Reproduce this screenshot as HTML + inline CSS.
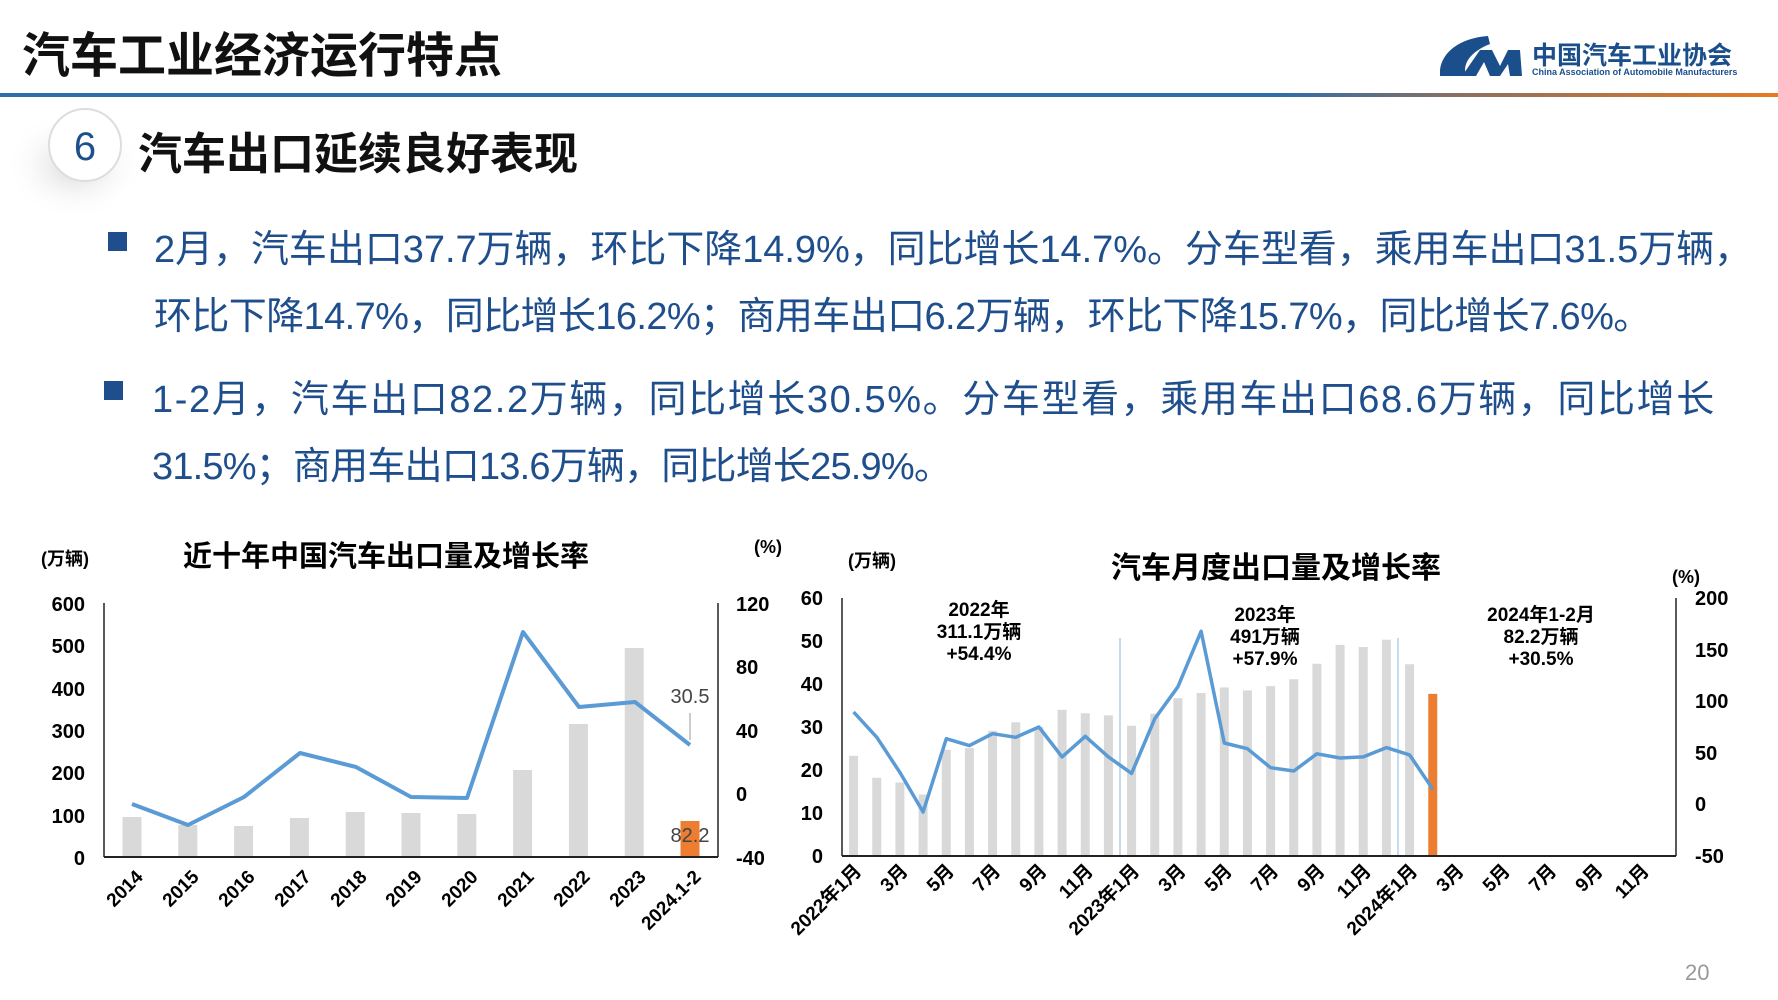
<!DOCTYPE html>
<html><head><meta charset="utf-8">
<style>
html,body{margin:0;padding:0;background:#fff;}
body{width:1778px;height:1000px;overflow:hidden;position:relative;font-family:"Liberation Sans","Noto Sans CJK SC",sans-serif;}
.t{position:absolute;white-space:nowrap;}
.b{font-weight:bold;}
.txt{color:#1f4e8c;font-size:38px;}
</style></head><body>
<div class="t b" style="left:22px;top:16px;font-size:48px;color:#111;">汽车工业经济运行特点</div>
<svg style="position:absolute;left:0;top:0" width="1778" height="1000">
<defs>
<linearGradient id="g" x1="0" x2="1"><stop offset="0" stop-color="#2f6ea9"/><stop offset="0.72" stop-color="#2f6ea9"/><stop offset="0.82" stop-color="#8a7060"/><stop offset="1" stop-color="#e67a22"/></linearGradient>
<radialGradient id="sh" cx="0.5" cy="0.5" r="0.5"><stop offset="0" stop-color="#bbb" stop-opacity="0.6"/><stop offset="1" stop-color="#fff" stop-opacity="0"/></radialGradient>
</defs>
<rect x="0" y="93" width="1778" height="4" fill="url(#g)"/>
<path d="M1488,36 C1460,38 1442,52 1440,70 L1440,76 L1466,76 C1462,64 1470,52 1490,44 Z" fill="#1a4f8c"/>
<path d="M1462,76 L1480,50 L1492,50 L1500,66 L1508,50 L1520,50 L1522,76 L1510,76 L1508,64 L1500,76 L1490,76 L1484,62 L1476,76 Z" fill="#1a4f8c"/>
<ellipse cx="75" cy="165" rx="70" ry="55" fill="url(#sh)"/>
<circle cx="85" cy="145" r="36" fill="#fff" stroke="#ddd" stroke-width="2"/>
<text x="85" y="160" font-size="40" fill="#1f4e8c" text-anchor="middle" font-family="Liberation Sans">6</text>
<rect x="108" y="232" width="19" height="19" fill="#1f4e8c"/>
<rect x="104" y="381" width="19" height="19" fill="#1f4e8c"/>
</svg>
<div class="t b" style="left:1532px;top:36px;font-size:25px;color:#1a4f8c;">中国汽车工业协会</div>
<div class="t b" style="left:1532px;top:67px;font-size:9px;color:#1a4f8c;">China Association of Automobile Manufacturers</div>
<div class="t b" style="left:138px;top:118px;font-size:44px;color:#111;">汽车出口延续良好表现</div>
<div class="t txt" style="left:154px;top:218px;letter-spacing:-0.05px;">2月，汽车出口37.7万辆，环比下降14.9%，同比增长14.7%。分车型看，乘用车出口31.5万辆，</div>
<div class="t txt" style="left:154px;top:285px;letter-spacing:-0.6px;">环比下降14.7%，同比增长16.2%；商用车出口6.2万辆，环比下降15.7%，同比增长7.6%。</div>
<div class="t txt" style="left:152px;top:368px;letter-spacing:1.6px;">1-2月，汽车出口82.2万辆，同比增长30.5%。分车型看，乘用车出口68.6万辆，同比增长</div>
<div class="t txt" style="left:152px;top:435px;letter-spacing:-0.8px;">31.5%；商用车出口13.6万辆，同比增长25.9%。</div>
<div class="t" style="left:1685px;top:960px;font-size:22px;color:#999;">20</div>

<svg style="position:absolute;left:0;top:0" width="1778" height="1000" font-family="Liberation Sans,Noto Sans CJK SC,sans-serif" font-weight="bold">
<text x="65" y="565" font-size="18" text-anchor="middle">(万辆)</text>
<text x="386" y="566" font-size="29" text-anchor="middle">近十年中国汽车出口量及增长率</text>
<text x="768" y="553" font-size="18" text-anchor="middle">(%)</text>
<g font-size="20" text-anchor="end">
<text x="85" y="611">600</text><text x="85" y="653">500</text><text x="85" y="696">400</text><text x="85" y="738">300</text><text x="85" y="780">200</text><text x="85" y="823">100</text><text x="85" y="865">0</text>
</g>
<g font-size="20">
<text x="736" y="611">120</text><text x="736" y="674">80</text><text x="736" y="738">40</text><text x="736" y="801">0</text><text x="736" y="865">-40</text>
</g>
<g fill="#d9d9d9">
<rect x="122.5" y="817" width="19" height="39"/>
<rect x="178.3" y="825" width="19" height="31"/>
<rect x="234.1" y="826" width="19" height="30"/>
<rect x="289.9" y="818" width="19" height="38"/>
<rect x="345.7" y="812" width="19" height="44"/>
<rect x="401.5" y="813" width="19" height="43"/>
<rect x="457.3" y="814" width="19" height="42"/>
<rect x="513.1" y="770" width="19" height="86"/>
<rect x="568.9" y="724" width="19" height="132"/>
<rect x="624.7" y="648" width="19" height="208"/>
</g>
<rect x="680.5" y="821" width="19" height="35" fill="#ed7d31"/>
<line x1="104" y1="603" x2="104" y2="857" stroke="#222" stroke-width="1.5"/>
<line x1="718" y1="603" x2="718" y2="857" stroke="#222" stroke-width="1.5"/>
<line x1="104" y1="857" x2="718" y2="857" stroke="#222" stroke-width="2"/>
<polyline fill="none" stroke="#5b9bd5" stroke-width="4" stroke-linejoin="round" points="132,804 188,825 244,797 300,753 356,767 411,797 467,798 523,632 579,707 635,702 690,745"/>
<line x1="690" y1="713" x2="690" y2="740" stroke="#999" stroke-width="1"/>
<text x="690" y="703" font-size="20" fill="#444" text-anchor="middle" font-weight="normal">30.5</text>
<text x="690" y="842" font-size="20" fill="#444" text-anchor="middle" font-weight="normal">82.2</text>
<g font-size="19" text-anchor="end">
<text transform="translate(144,878) rotate(-45)">2014</text>
<text transform="translate(200,878) rotate(-45)">2015</text>
<text transform="translate(256,878) rotate(-45)">2016</text>
<text transform="translate(312,878) rotate(-45)">2017</text>
<text transform="translate(368,878) rotate(-45)">2018</text>
<text transform="translate(423,878) rotate(-45)">2019</text>
<text transform="translate(479,878) rotate(-45)">2020</text>
<text transform="translate(535,878) rotate(-45)">2021</text>
<text transform="translate(591,878) rotate(-45)">2022</text>
<text transform="translate(647,878) rotate(-45)">2023</text>
<text transform="translate(702,878) rotate(-45)">2024.1-2</text>
</g>

<text x="872" y="567" font-size="18" text-anchor="middle">(万辆)</text>
<text x="1276" y="578" font-size="30" text-anchor="middle">汽车月度出口量及增长率</text>
<text x="1686" y="583" font-size="18" text-anchor="middle">(%)</text>
<g font-size="20" text-anchor="end">
<text x="823" y="605">60</text><text x="823" y="648">50</text><text x="823" y="691">40</text><text x="823" y="734">30</text><text x="823" y="777">20</text><text x="823" y="820">10</text><text x="823" y="863">0</text>
</g>
<g font-size="20">
<text x="1695" y="605">200</text><text x="1695" y="657">150</text><text x="1695" y="708">100</text><text x="1695" y="760">50</text><text x="1695" y="811">0</text><text x="1695" y="863">-50</text>
</g>
<line x1="1120" y1="638" x2="1120" y2="856" stroke="#9dc3e6" stroke-width="1.2"/>
<line x1="1398" y1="638" x2="1398" y2="856" stroke="#9dc3e6" stroke-width="1.2"/>
<g id="rbars"></g>
<line x1="842" y1="598" x2="842" y2="856" stroke="#222" stroke-width="1.5"/>
<line x1="1676" y1="598" x2="1676" y2="856" stroke="#222" stroke-width="1.5"/>
<line x1="842" y1="856" x2="1676" y2="856" stroke="#222" stroke-width="2"/>
<polyline id="rl" fill="none" stroke="#5b9bd5" stroke-width="3.5" stroke-linejoin="round" points=""/>
<g font-size="19" text-anchor="middle">
<text x="979" y="616">2022年</text><text x="979" y="638">311.1万辆</text><text x="979" y="660">+54.4%</text>
<text x="1265" y="621">2023年</text><text x="1265" y="643">491万辆</text><text x="1265" y="665">+57.9%</text>
<text x="1541" y="621">2024年1-2月</text><text x="1541" y="643">82.2万辆</text><text x="1541" y="665">+30.5%</text>
</g>
<g id="rx" font-size="19" text-anchor="end"></g>
</svg>
<script>
(function(){
var ns="http://www.w3.org/2000/svg";
var v=[23.3,18.2,17.1,14.3,24.7,25.1,29.1,31.1,30,34,33.2,32.7,30.3,33.1,36.7,37.9,39.2,38.5,39.5,41.1,44.7,49.1,48.6,50.3,44.6,37.7];
var g=[89.5,65,31,-7.4,63.7,57,68.5,65,75,46,66,46,30,83,114,167.7,59.5,54,35.6,32.4,49,45,46,55,48,14.7];
var w=834/36,x0=842,y0=856,sy=258/60;
var gb=document.getElementById("rbars"),pts=[];
for(var i=0;i<v.length;i++){
 var cx=x0+w*(i+0.5),h=v[i]*sy,r=document.createElementNS(ns,"rect");
 r.setAttribute("x",cx-4.5);r.setAttribute("width",9);r.setAttribute("y",y0-h);r.setAttribute("height",h);
 r.setAttribute("fill",i==25?"#ed7d31":"#d9d9d9");gb.appendChild(r);
 pts.push(cx.toFixed(1)+","+(y0-(g[i]+50)*258/250).toFixed(1));
}
document.getElementById("rl").setAttribute("points",pts.join(" "));
var lab=["2022年1月","3月","5月","7月","9月","11月","2023年1月","3月","5月","7月","9月","11月","2024年1月","3月","5月","7月","9月","11月"];
var gx=document.getElementById("rx");
for(var j=0;j<18;j++){
 var cx=x0+w*(2*j+0.5)+9,t=document.createElementNS(ns,"text");
 t.setAttribute("transform","translate("+cx+",872) rotate(-45)");t.textContent=lab[j];gx.appendChild(t);
}
})();
</script>
</body></html>
